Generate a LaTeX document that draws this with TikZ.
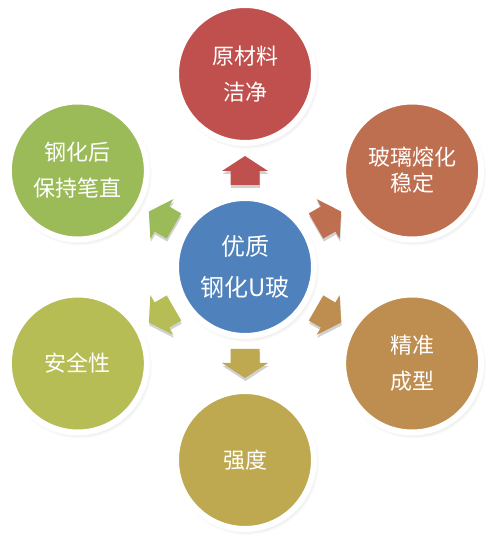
\documentclass[tikz,border=0pt]{standalone}
\usepackage{fontspec}
\setmainfont{Noto Sans CJK SC}
\usetikzlibrary{shadows,calc}
\definecolor{cblue}{HTML}{4F81BD}
\definecolor{cred}{HTML}{C0504D}
\definecolor{cur}{HTML}{BE6F50}
\definecolor{clr}{HTML}{BE8D50}
\definecolor{cbot}{HTML}{BEA850}
\definecolor{cll}{HTML}{B7BD55}
\definecolor{cul}{HTML}{9BBB59}
\begin{document}
\begin{tikzpicture}[x=1pt,y=1pt,
  ball/.style={circle, draw=white, line width=6pt, minimum size=138pt, inner sep=0pt,
    text=white, align=center, font=\fontsize{22}{36}\selectfont,
    circular drop shadow={shadow xshift=1.5pt, shadow yshift=-2.5pt, shadow scale=1.05, opacity=0.35}},
  arrowshadow/.style={fill=black, opacity=0.18},
  arrowshape/.style={}]
\useasboundingbox (0,0) rectangle (491,540);
\coordinate (c) at (245,273);
% block arrows from the centre towards each outer circle
\foreach \ang/\col in {90/cred, 30/cur, -30/clr, -90/cbot, -150/cll, 150/cul}{
  \begin{scope}[shift={($(c)+(0.5,-3)$)}, rotate=\ang]
    \fill[arrowshadow] (82,-14.5) -- (96,-14.5) -- (96,-23) -- (111,0) -- (96,23) -- (96,14.5) -- (82,14.5) -- cycle;
  \end{scope}
  \begin{scope}[shift={(c)}, rotate=\ang]
    \fill[\col, arrowshape] (82,-14.5) -- (96,-14.5) -- (96,-23) -- (111,0) -- (96,23) -- (96,14.5) -- (82,14.5) -- cycle;
  \end{scope}
}
% circles
\node[ball, fill=cred] (n1) at ($(c)+(90:193)$) {原材料\\洁净};
\node[ball, fill=cur, font=\fontsize{22}{26}\selectfont] (n2) at ($(c)+(30:193)$) {玻璃熔化\\稳定};
\node[ball, fill=clr] (n3) at ($(c)+(-30:193)$) {精准\\成型};
\node[ball, fill=cbot] (n4) at ($(c)+(-90:193)$) {强度};
\node[ball, fill=cll] (n5) at ($(c)+(-150:193)$) {安全性};
\node[ball, fill=cul] (n6) at ($(c)+(150:193)$) {钢化后\\保持笔直};
\node[ball, fill=cblue, font=\fontsize{24}{41}\selectfont] (center) at (c) {优质\\钢化U玻};
\end{tikzpicture}
\end{document}
